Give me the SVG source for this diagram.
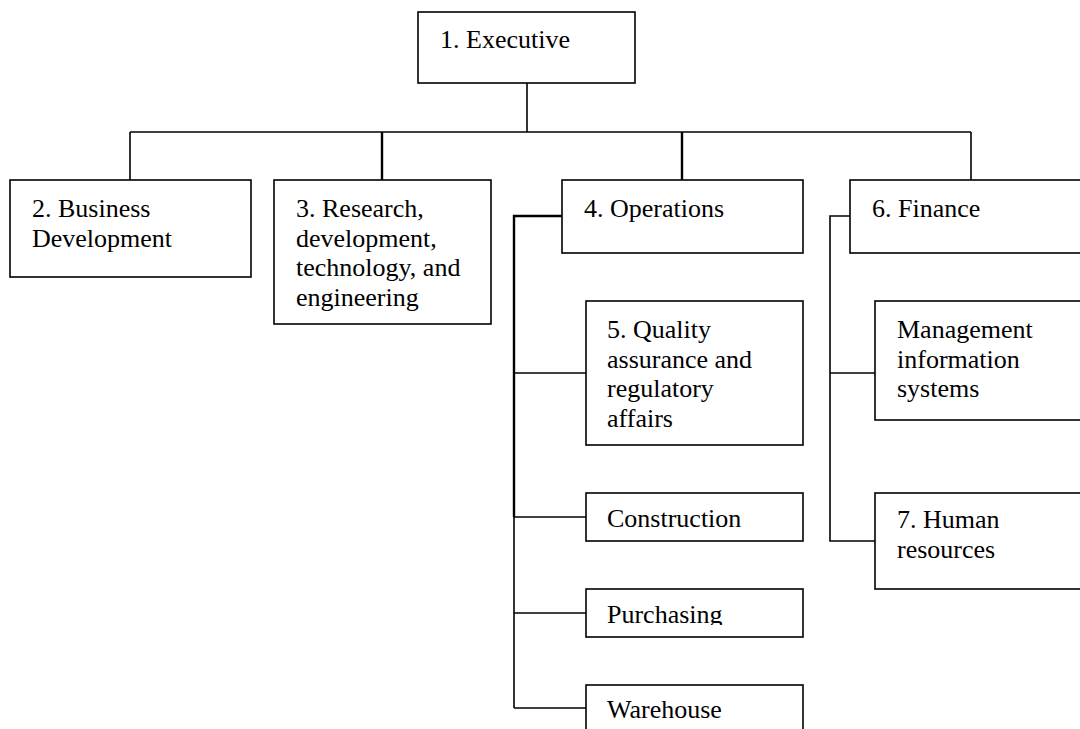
<svg xmlns="http://www.w3.org/2000/svg" width="1080" height="729" viewBox="0 0 1080 729">
  <style>
    .box { fill: #ffffff; stroke: #000000; stroke-width: 1.6; }
    .ln { fill: none; stroke: #000000; stroke-width: 1.6; }
    .ln-b { fill: none; stroke: #000000; stroke-width: 2.4; }
    .lbl { font-family: "Liberation Serif", "Times New Roman", serif; font-size: 26px; fill: #000000; }
  </style>
  <defs>
    <clipPath id="clip-purchasing">
      <rect x="586" y="589" width="217" height="36"/>
    </clipPath>
  </defs>
  <rect width="1080" height="729" fill="#ffffff"/>

  <!-- connectors -->
  <g id="connectors">
    <line class="ln" x1="527" y1="83" x2="527" y2="132"/>
    <line class="ln" x1="130" y1="132" x2="971" y2="132"/>
    <line class="ln" x1="130" y1="132" x2="130" y2="180"/>
    <line class="ln-b" x1="382" y1="132" x2="382" y2="180"/>
    <line class="ln-b" x1="682" y1="132" x2="682" y2="180"/>
    <line class="ln" x1="971" y1="132" x2="971" y2="180"/>
    <!-- operations branch -->
    <polyline class="ln-b" points="562,216 514,216 514,517"/>
    <line class="ln" x1="514" y1="517" x2="514" y2="708"/>
    <line class="ln" x1="514" y1="373" x2="586" y2="373"/>
    <line class="ln" x1="514" y1="517" x2="586" y2="517"/>
    <line class="ln" x1="514" y1="613" x2="586" y2="613"/>
    <line class="ln" x1="514" y1="708" x2="586" y2="708"/>
    <!-- finance branch -->
    <polyline class="ln" points="850,216 830,216 830,541 875,541"/>
    <line class="ln" x1="830" y1="373" x2="875" y2="373"/>
  </g>

  <g id="executive">
    <rect class="box" x="418" y="12" width="217" height="71"/>
    <text class="lbl" x="440" y="48">1. Executive</text>
  </g>

  <g id="business-development">
    <rect class="box" x="10" y="180" width="241" height="97"/>
    <text class="lbl" x="32" y="217">2. Business</text>
    <text class="lbl" x="32" y="246.5">Development</text>
  </g>

  <g id="research">
    <rect class="box" x="274" y="180" width="217" height="144"/>
    <text class="lbl" x="296" y="217">3. Research,</text>
    <text class="lbl" x="296" y="246.5">development,</text>
    <text class="lbl" x="296" y="276">technology, and</text>
    <text class="lbl" x="296" y="305.5">engineering</text>
  </g>

  <g id="operations">
    <rect class="box" x="562" y="180" width="241" height="73"/>
    <text class="lbl" x="584" y="217">4. Operations</text>
  </g>

  <g id="finance">
    <rect class="box" x="850" y="180" width="241" height="73"/>
    <text class="lbl" x="872" y="217">6. Finance</text>
  </g>

  <g id="quality">
    <rect class="box" x="586" y="301" width="217" height="144"/>
    <text class="lbl" x="607" y="338">5. Quality</text>
    <text class="lbl" x="607" y="367.5">assurance and</text>
    <text class="lbl" x="607" y="397">regulatory</text>
    <text class="lbl" x="607" y="426.5">affairs</text>
  </g>

  <g id="construction">
    <rect class="box" x="586" y="493" width="217" height="48"/>
    <text class="lbl" x="607" y="527">Construction</text>
  </g>

  <g id="purchasing">
    <rect class="box" x="586" y="589" width="217" height="48"/>
    <text class="lbl" x="607" y="623" clip-path="url(#clip-purchasing)">Purchasing</text>
  </g>

  <g id="warehouse">
    <rect class="box" x="586" y="685" width="217" height="48"/>
    <text class="lbl" x="607" y="718">Warehouse</text>
  </g>

  <g id="mis">
    <rect class="box" x="875" y="301" width="217" height="119"/>
    <text class="lbl" x="897" y="338">Management</text>
    <text class="lbl" x="897" y="367.5">information</text>
    <text class="lbl" x="897" y="397">systems</text>
  </g>

  <g id="human-resources">
    <rect class="box" x="875" y="493" width="217" height="96"/>
    <text class="lbl" x="897" y="528">7. Human</text>
    <text class="lbl" x="897" y="557.5">resources</text>
  </g>
</svg>
